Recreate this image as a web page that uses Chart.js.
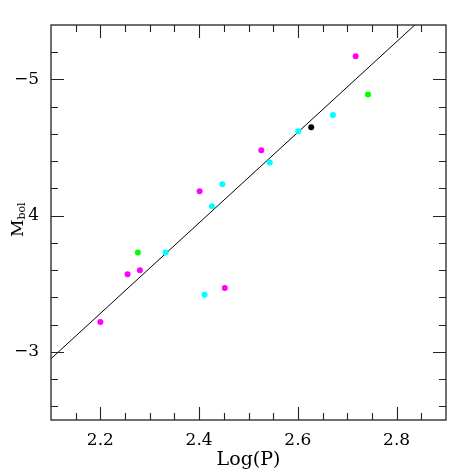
<!DOCTYPE html>
<html>
<head>
<meta charset="utf-8">
<script src="https://cdn.jsdelivr.net/npm/chart.js@4.4.1/dist/chart.umd.min.js"></script>
<style>
  html, body { margin: 0; padding: 0; background: #fff; }
  #wrap { width: 471px; height: 471px; }
</style>
</head>
<body>
<div id="wrap"><canvas id="plc"></canvas></div>
<script>
// data
const magentaLogP = [2.200, 2.255, 2.280, 2.401, 2.452, 2.526, 2.717];
const magentaMbol = [-3.22, -3.57, -3.60, -4.18, -3.47, -4.48, -5.17];
const cyanLogP    = [2.332, 2.411, 2.426, 2.447, 2.543, 2.601, 2.671];
const cyanMbol    = [-3.73, -3.42, -4.07, -4.23, -4.39, -4.62, -4.74];
const greenLogP   = [2.276, 2.742];
const greenMbol   = [-3.73, -4.89];
const blackLogP   = [2.627];
const blackMbol   = [-4.65];

const fitLogP = [2.1, 2.9];
const fitMbol = [-2.95, -5.61];

const xTickVals   = [2.2, 2.4, 2.6, 2.8];
const xTickLabels = ['2.2', '2.4', '2.6', '2.8'];
const yTickVals   = [-3, -4, -5];
const yTickLabels = ['\u22123', '4', '\u22125'];

const X_MIN = 2.1, X_MAX = 2.9, Y_MIN = -5.4, Y_MAX = -2.5;
const SERIF = '"DejaVu Serif", "Liberation Serif", serif';

const pts = (xs, ys) => xs.map((x, i) => ({ x: x, y: ys[i] }));

function dotSet(xs, ys, color) {
  return {
    type: 'scatter',
    data: pts(xs, ys),
    backgroundColor: color,
    borderColor: color,
    pointRadius: 3,
    pointBorderWidth: 0,
  };
}

// frame with inward ticks on all four sides + the y title with subscript
const framePlugin = {
  id: 'frame',
  afterDraw(chart) {
    const ctx = chart.ctx;
    const a = chart.chartArea;
    const xs = chart.scales.x, ys = chart.scales.y;
    ctx.save();
    ctx.strokeStyle = '#222';
    ctx.lineWidth = 1.3;
    ctx.strokeRect(a.left, a.top, a.right - a.left, a.bottom - a.top);

    ctx.lineWidth = 1.1;
    ctx.beginPath();
    for (let i = 0; i <= 16; i++) {
      const v = X_MIN + i * 0.05;
      const major = xTickVals.some(t => Math.abs(t - v) < 1e-6);
      const len = major ? 13 : 7;
      const px = Math.round(xs.getPixelForValue(v)) + 0.5;
      if (px <= a.left + 1 || px >= a.right - 1) continue;
      ctx.moveTo(px, a.bottom); ctx.lineTo(px, a.bottom - len);
      ctx.moveTo(px, a.top);    ctx.lineTo(px, a.top + len);
    }
    for (let i = 1; i < 15; i++) {
      const v = -2.4 - i * 0.2;
      const major = yTickVals.some(t => Math.abs(t - v) < 1e-6);
      const len = major ? 13 : 7;
      const py = Math.round(ys.getPixelForValue(v)) + 0.5;
      if (py <= a.top + 1 || py >= a.bottom - 1) continue;
      ctx.moveTo(a.left, py);  ctx.lineTo(a.left + len, py);
      ctx.moveTo(a.right, py); ctx.lineTo(a.right - len, py);
    }
    ctx.stroke();

    // y title: M_bol, rotated
    ctx.fillStyle = '#000';
    ctx.translate(23, 237);
    ctx.rotate(-Math.PI / 2);
    ctx.textAlign = 'left';
    ctx.textBaseline = 'alphabetic';
    ctx.font = '17px ' + SERIF;
    ctx.fillText('M', 0, 0);
    const w = ctx.measureText('M').width;
    ctx.font = '11px ' + SERIF;
    ctx.fillText('bol', w, 2);
    ctx.restore();
  }
};

new Chart(document.getElementById('plc'), {
  data: {
    datasets: [
      dotSet(magentaLogP, magentaMbol, '#ff00ff'),
      dotSet(cyanLogP, cyanMbol, '#00ffff'),
      dotSet(greenLogP, greenMbol, '#00ff00'),
      dotSet(blackLogP, blackMbol, '#000000'),
      {
        type: 'line',
        data: pts(fitLogP, fitMbol),
        borderColor: '#000',
        borderWidth: 1,
        pointRadius: 0,
        fill: false,
      },
    ]
  },
  options: {
    responsive: true,
    maintainAspectRatio: false,
    animation: false,
    layout: { padding: { left: 0, right: 25, top: 25, bottom: 0 } },
    plugins: {
      legend: { display: false },
      tooltip: { enabled: false },
    },
    scales: {
      x: {
        type: 'linear',
        min: X_MIN,
        max: X_MAX,
        grid: { display: false, drawTicks: false },
        border: { display: false },
        afterBuildTicks: s => { s.ticks = xTickVals.map(v => ({ value: v })); },
        afterFit: s => { s.height = 51; },
        ticks: {
          padding: 10,
          color: '#000',
          font: { family: SERIF, size: 17 },
          callback: v => xTickLabels[xTickVals.findIndex(t => Math.abs(t - v) < 1e-6)],
        },
        title: {
          display: true,
          text: 'Log(P)',
          color: '#000',
          font: { family: SERIF, size: 19 },
          padding: { top: 0, bottom: 0 },
        },
      },
      y: {
        type: 'linear',
        reverse: true,
        min: Y_MIN,
        max: Y_MAX,
        grid: { display: false, drawTicks: false },
        border: { display: false },
        afterBuildTicks: s => { s.ticks = yTickVals.map(v => ({ value: v })); },
        afterFit: s => { s.width = 51; },
        ticks: {
          padding: 12,
          color: '#000',
          font: { family: SERIF, size: 17 },
          callback: v => yTickLabels[yTickVals.findIndex(t => Math.abs(t - v) < 1e-6)],
        },
      },
    },
  },
  plugins: [framePlugin],
});
</script>
</body>
</html>
